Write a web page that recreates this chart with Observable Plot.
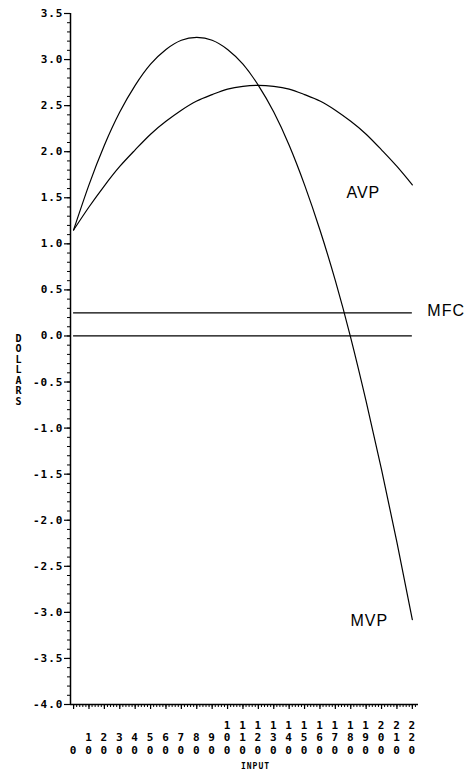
<!DOCTYPE html>
<html>
<head>
<meta charset="utf-8">
<script src="https://cdn.jsdelivr.net/npm/d3@7"></script>
<script src="https://cdn.jsdelivr.net/npm/@observablehq/plot@0.6"></script>
<style>
  html, body { margin: 0; padding: 0; background: #fff; }
  #chart svg { display: block; }
  .mono text { letter-spacing: 1px; }
</style>
</head>
<body>
<div id="chart"></div>
<script>
// Input levels (x) and readings
const inputs = [0, 10, 20, 30, 40, 50, 60, 70, 80, 90, 100, 110, 120, 130, 140, 150, 160, 170, 180, 190, 200, 210, 220];
const avpValues = [1.15, 1.40, 1.63, 1.84, 2.02, 2.19, 2.33, 2.45, 2.55, 2.62, 2.68, 2.71, 2.72, 2.71, 2.68, 2.62, 2.55, 2.45, 2.33, 2.19, 2.02, 1.84, 1.64];
const mvpValues = [1.15, 1.64, 2.07, 2.43, 2.72, 2.95, 3.11, 3.21, 3.24, 3.21, 3.11, 2.95, 2.72, 2.43, 2.07, 1.64, 1.15, 0.60, -0.02, -0.71, -1.45, -2.24, -3.08];
const mfcValue = 0.25;
const seriesNames = ["AVP", "MFC", "MVP"];

// Tick values / labels
const yMajorTicks = [-4.0, -3.5, -3.0, -2.5, -2.0, -1.5, -1.0, -0.5, 0.0, 0.5, 1.0, 1.5, 2.0, 2.5, 3.0, 3.5];
const yMinorTicks = d3.range(-40, 36).map(d => d / 10);
const xMajorTicks = [0, 10, 20, 30, 40, 50, 60, 70, 80, 90, 100, 110, 120, 130, 140, 150, 160, 170, 180, 190, 200, 210, 220];
const xMinorTicks = d3.range(0, 224, 2);
const xTitle = "INPUT";
const yTitle = "DOLLARS";

const rows = inputs.map((x, i) => ({x, avp: avpValues[i], mvp: mvpValues[i]}));
const last = rows[rows.length - 1];

const mono = {fontFamily: "DejaVu Sans Mono", fontWeight: "bold", fontSize: 11};

const plot = Plot.plot({
  width: 467,
  height: 777,
  marginLeft: 70,
  marginRight: 49,
  marginTop: 13,
  marginBottom: 73,
  style: {background: "#fff", color: "#000", overflow: "visible"},
  className: "mono",
  x: {domain: [-2, 224], axis: null},
  y: {domain: [-4, 3.5], axis: null},
  marks: [
    // axis lines
    Plot.ruleX([-2], {stroke: "#000", strokeWidth: 1.5}),
    Plot.ruleY([-4], {stroke: "#000", strokeWidth: 1.5}),
    // y ticks
    Plot.axisY(yMinorTicks, {tickSize: 3, tickFormat: () => "", label: null, stroke: "#000", strokeWidth: 1}),
    Plot.axisY(yMajorTicks, {tickSize: 6, tickPadding: 1, tickFormat: d => d.toFixed(1), label: null, stroke: "#000", strokeWidth: 1.2, ...mono}),
    // x ticks
    Plot.axisX(xMinorTicks, {tickSize: 3, tickFormat: () => "", label: null, stroke: "#000", strokeWidth: 1}),
    Plot.axisX(xMajorTicks, {tickSize: 5, tickFormat: () => "", label: null, stroke: "#000", strokeWidth: 1.2}),
    Plot.text(xMajorTicks, {
      x: d => d,
      frameAnchor: "bottom",
      text: d => String(d).split("").join("\n"),
      lineAnchor: "bottom",
      lineHeight: 1.1,
      dy: 49,
      fill: "#000",
      ...mono
    }),
    Plot.text([xTitle], {frameAnchor: "bottom", dy: 64, dx: 11, fontFamily: "DejaVu Sans Mono", fontWeight: "bold", fontSize: 8, fill: "#000"}),
    Plot.text([yTitle], {
      frameAnchor: "left",
      text: d => d.split("").join("\n"),
      lineHeight: 1.05,
      dx: -55,
      dy: 11,
      fill: "#000",
      fontFamily: "DejaVu Sans Mono", fontWeight: "bold", fontSize: 10
    }),
    // reference lines
    Plot.ruleY([0], {x1: 0, x2: 220, stroke: "#000", strokeWidth: 1.2}),
    Plot.ruleY([mfcValue], {x1: 0, x2: 220, stroke: "#000", strokeWidth: 1.2}),
    // curves
    Plot.line(rows, {x: "x", y: "avp", curve: "natural", stroke: "#000", strokeWidth: 1.2}),
    Plot.line(rows, {x: "x", y: "mvp", curve: "natural", stroke: "#000", strokeWidth: 1.2}),
    // curve labels anchored at series ends
    Plot.text([last], {x: "x", y: "avp", text: () => seriesNames[0], dx: -49, dy: 8, fontFamily: "Liberation Sans", fontSize: 16, fill: "#000"}),
    Plot.text([last], {x: "x", y: () => mfcValue, text: () => seriesNames[1], textAnchor: "start", dx: 15, dy: -2, fontFamily: "Liberation Sans", fontSize: 16, fill: "#000"}),
    Plot.text([last], {x: "x", y: "mvp", text: () => seriesNames[2], dx: -43, dy: 1, fontFamily: "Liberation Sans", fontSize: 16, fill: "#000"})
  ]
});
document.getElementById("chart").appendChild(plot);
</script>
</body>
</html>
